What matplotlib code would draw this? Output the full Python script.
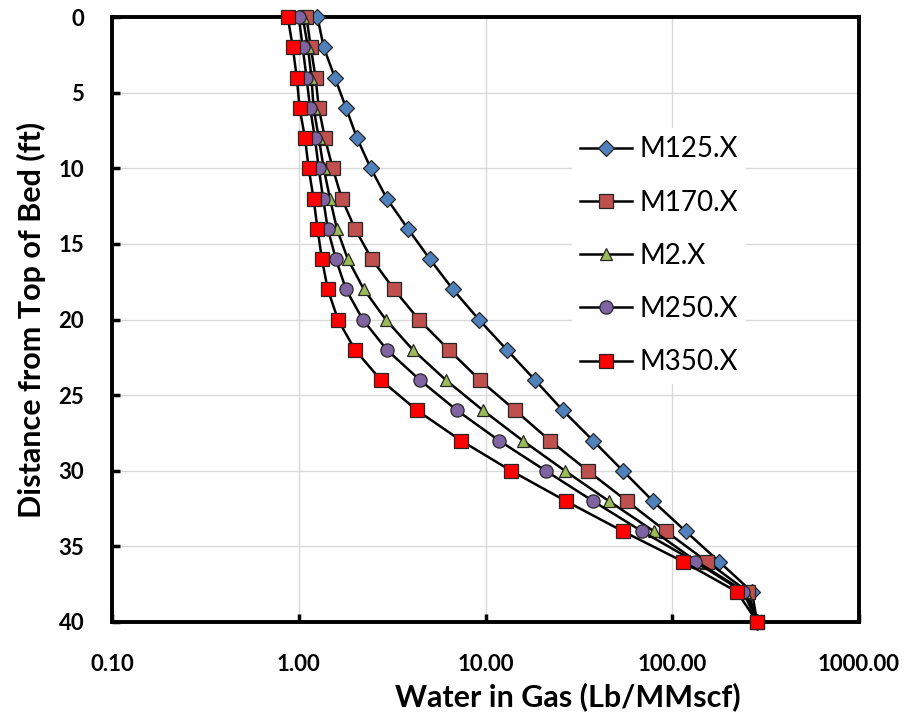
import matplotlib
matplotlib.use('Agg')
import matplotlib.pyplot as plt
from matplotlib.ticker import FixedLocator, FixedFormatter

plt.rcParams['font.family'] = ['Lato', 'DejaVu Sans']

depth = [0, 2, 4, 6, 8, 10, 12, 14, 16, 18, 20, 22, 24, 26, 28, 30, 32, 34, 36, 38, 40]

m125 = [1.26, 1.36, 1.56, 1.79, 2.05, 2.43, 2.96, 3.84, 5.03, 6.68, 9.21, 13.0, 18.4, 25.9,
        37.6, 54.4, 78.7, 118, 178, 267, 285]
m170 = [1.10, 1.16, 1.23, 1.28, 1.38, 1.52, 1.70, 2.00, 2.46, 3.23, 4.39, 6.36, 9.32, 14.4,
        22.1, 35.3, 57.1, 92.4, 153, 254, 285]
m2 = [1.05, 1.12, 1.17, 1.20, 1.28, 1.36, 1.47, 1.60, 1.83, 2.23, 2.92, 4.08, 6.13, 9.68,
      15.8, 26.6, 45.7, 79.7, 135, 245, 285]
m250 = [1.00, 1.05, 1.10, 1.15, 1.22, 1.28, 1.35, 1.43, 1.58, 1.79, 2.20, 2.96, 4.45, 7.02,
        11.8, 21.0, 37.6, 68.7, 132, 240, 285]
m350 = [0.873, 0.929, 0.976, 1.01, 1.08, 1.13, 1.20, 1.26, 1.33, 1.43, 1.62, 2.00, 2.75, 4.29,
        7.38, 13.7, 26.9, 54.4, 114, 222, 285]

series = [
    ('M125.X', m125, 'D', '#4F81BD', 8),
    ('M170.X', m170, 's', '#C0504D', 9.5),
    ('M2.X', m2, '^', '#9BBB59', 9),
    ('M250.X', m250, 'o', '#8064A2', 9.5),
    ('M350.X', m350, 's', '#FF0000', 9.5),
]

xticks = [0.1, 1, 10, 100, 1000]
xtick_labels = ['0.10', '1.00', '10.00', '100.00', '1000.00']
yticks = [0, 5, 10, 15, 20, 25, 30, 35, 40]

fig = plt.figure(figsize=(9.06, 7.17), dpi=100)
ax = fig.add_axes([112 / 906, 1 - 622 / 717, 747 / 906, 605 / 717])

for i, (name, vals, mk, col, ms) in enumerate(series):
    ax.plot(vals, depth, color='black', lw=1.8, marker=mk, markersize=ms,
            markerfacecolor=col, markeredgecolor='#262626', markeredgewidth=0.9,
            label=name, clip_on=False, zorder=3 + i)

ax.set_xscale('log')
ax.set_xlim(0.1, 1000)
ax.set_ylim(40, 0)

ax.xaxis.set_major_locator(FixedLocator(xticks))
ax.xaxis.set_major_formatter(FixedFormatter(xtick_labels))
ax.xaxis.set_minor_locator(FixedLocator([]))
ax.set_yticks(yticks)

ax.grid(True, which='major', color='#d9d9d9', lw=1.0, zorder=0)
ax.set_axisbelow(True)

for sp in ax.spines.values():
    sp.set_linewidth(2.8)
    sp.set_color('black')

ax.tick_params(axis='both', direction='in', length=6, width=2.5, labelsize=16)
ax.tick_params(axis='x', pad=23, top=False)
ax.tick_params(axis='y', pad=20, right=False)
for lbl in ax.get_xticklabels() + ax.get_yticklabels():
    lbl.set_fontweight('bold')

ax.set_xlabel('Water in Gas (Lb/MMscf)', fontsize=22, fontweight='bold')
ax.xaxis.set_label_coords((568 - 112) / 747, -(706 - 622) / 605)
ax.xaxis.label.set_verticalalignment('baseline')
ax.set_ylabel('Distance from Top of Bed (ft)', fontsize=22, fontweight='bold')
ax.yaxis.set_label_coords(-(112 - 46) / 747, 0.5)

leg = ax.legend(loc='upper left', bbox_to_anchor=(572 / 906, 1 - 128 / 717),
                bbox_transform=fig.transFigure, fontsize=20, frameon=True,
                handlelength=1.87, handletextpad=0.25, labelspacing=0.98,
                borderpad=0.3, borderaxespad=0)
leg.get_frame().set_facecolor('white')
leg.get_frame().set_edgecolor('none')
leg.get_frame().set_alpha(1)
leg.set_zorder(20)

fig.savefig('out.png', dpi=100)
